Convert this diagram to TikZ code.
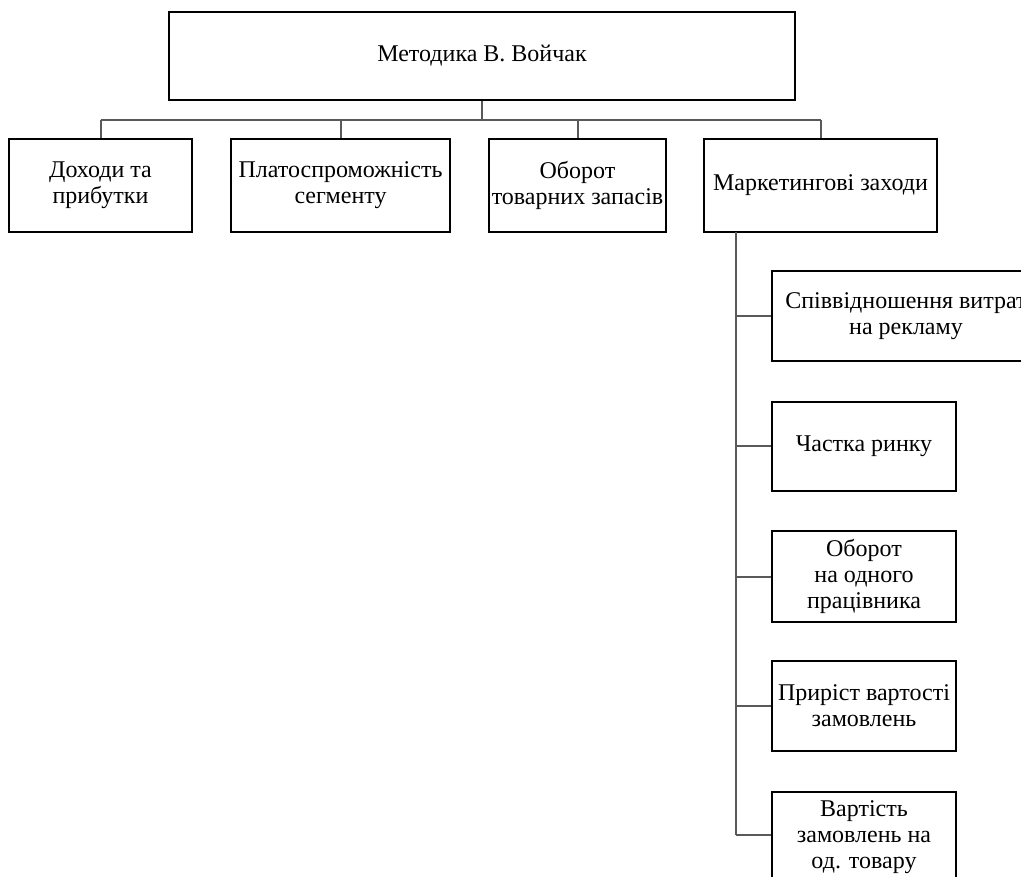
\documentclass[tikz,border=0pt]{standalone}
\usepackage{fontspec}
\setmainfont{Liberation Serif}
\begin{document}
\begin{tikzpicture}[x=1pt,y=-1pt,
  box/.style={draw=black,line width=2pt,rectangle,align=center,inner sep=0pt,
    font=\fontsize{24}{26}\selectfont},
  conn/.style={draw=black!65,line width=2pt}]
\useasboundingbox (0,0) rectangle (1021,877);
\clip (0,0) rectangle (1021,877);
\node[box,minimum width=626,minimum height=88] (top) at (482,56) {Методика В. Войчак};
\node[box,minimum width=183,minimum height=93] (b1) at (100.5,185.5) {Доходи та\\прибутки};
\node[box,minimum width=219,minimum height=93] (b2) at (340.5,185.5) {Платоспроможність\\сегменту};
\node[box,minimum width=177,minimum height=93] (b3) at (577.5,185.5) {Оборот\\товарних запасів};
\node[box,minimum width=233,minimum height=93] (b4) at (820.5,185.5) {Маркетингові заходи};
\node[box,minimum width=268,minimum height=90] (s1) at (906,316) {Співвідношення витрат\\на рекламу};
\node[box,minimum width=184,minimum height=89] (s2) at (864,446.5) {Частка ринку};
\node[box,minimum width=184,minimum height=91] (s3) at (864,576.5) {Оборот\\на одного\\працівника};
\node[box,minimum width=184,minimum height=90] (s4) at (864,706) {Приріст вартості\\замовлень};
\node[box,minimum width=184,minimum height=90] (s5) at (864,837) {Вартість\\замовлень на\\од. товару};
\coordinate (bus) at (top.south |- 0,120);
\coordinate (busL) at (b1.north |- bus);
\coordinate (busR) at (b4.north |- bus);
\coordinate (tr0) at (736,232);
\coordinate (tr1) at (736,835);
\draw[conn] (top.south) -- (bus);
\draw[conn] (busL) -- (busR);
\draw[conn] (busL) -- (b1.north);
\draw[conn] (b2.north |- bus) -- (b2.north);
\draw[conn] (b3.north |- bus) -- (b3.north);
\draw[conn] (busR) -- (b4.north);
\draw[conn] (tr0) -- (tr1);
\draw[conn] (tr0 |- s1.west) -- (s1.west);
\draw[conn] (tr0 |- s2.west) -- (s2.west);
\draw[conn] (tr0 |- s3.west) -- (s3.west);
\draw[conn] (tr0 |- s4.west) -- (s4.west);
\draw[conn] (tr1) -- (s5.west |- tr1);
\end{tikzpicture}
\end{document}
